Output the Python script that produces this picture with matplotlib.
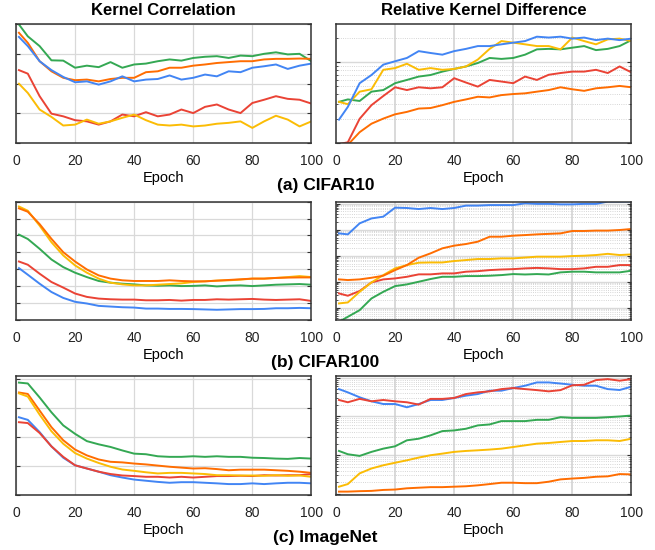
import matplotlib.pyplot as plt
from matplotlib.ticker import LogLocator, NullFormatter
import numpy as np

plt.rcParams['font.family'] = ['Liberation Sans', 'DejaVu Sans']

# x positions (epochs) shared by all series
epochs = [1] + list(range(4, 101, 4))
epoch_ticks = [0, 20, 40, 60, 80, 100]

colors = {'blue': '#4285F4', 'red': '#EA4335', 'yellow': '#FBBC05',
          'green': '#34A853', 'orange': '#FF6D01'}

# ---- (a) CIFAR10 ----
c10_corr_green = [4.0, 3.6, 3.27, 2.79, 2.78, 2.54, 2.61, 2.56, 2.73, 2.54, 2.65, 2.68, 2.76,
                  2.82, 2.78, 2.87, 2.91, 2.93, 2.87, 2.95, 2.93, 3.01, 3.06, 2.99, 3.01, 2.76]
c10_corr_orange = [3.72, 3.38, 2.76, 2.42, 2.2, 2.12, 2.14, 2.08, 2.16, 2.2, 2.2, 2.39, 2.42,
                   2.54, 2.54, 2.61, 2.65, 2.7, 2.73, 2.76, 2.76, 2.82, 2.84, 2.84, 2.85, 2.84]
c10_corr_blue = [3.58, 3.27, 2.76, 2.46, 2.23, 2.05, 2.08, 1.97, 2.08, 2.25, 2.08, 2.14, 2.16,
                 2.28, 2.14, 2.2, 2.31, 2.25, 2.42, 2.39, 2.54, 2.59, 2.65, 2.5, 2.61, 2.68]
c10_corr_red = [2.46, 2.34, 1.58, 0.99, 0.9, 0.77, 0.73, 0.62, 0.73, 0.96, 0.9, 1.04, 0.9,
                0.96, 1.13, 1.01, 1.22, 1.3, 1.13, 1.01, 1.35, 1.46, 1.58, 1.49, 1.46, 1.33]
c10_corr_yellow = [2.0, 1.69, 1.13, 0.88, 0.59, 0.62, 0.79, 0.65, 0.73, 0.85, 0.96, 0.77, 0.62,
                   0.59, 0.62, 0.56, 0.59, 0.65, 0.68, 0.73, 0.51, 0.73, 0.92, 0.79, 0.56, 0.73]

c10_diff_blue = [1.94, 2.79, 5.47, 6.9, 9.26, 10.2, 11.2, 13.6, 12.9, 12.3, 13.6, 14.5, 15.7,
                 15.7, 16.5, 17.3, 18.1, 20.5, 20.0, 20.5, 19.4, 20.0, 18.6, 19.4, 18.6, 19.4]
c10_diff_yellow = [3.22, 3.01, 4.3, 4.6, 8.0, 8.4, 9.5, 8.0, 8.4, 8.0, 8.2, 8.8, 10.7,
                   14.5, 18.1, 17.3, 16.5, 15.7, 15.7, 14.3, 20.0, 18.1, 16.5, 19.0, 19.4, 18.1]
c10_diff_green = [3.22, 3.45, 3.3, 4.3, 4.5, 5.47, 6.0, 6.6, 6.9, 7.6, 8.2, 8.8, 9.7,
                  11.2, 10.9, 11.2, 12.3, 14.3, 14.5, 14.3, 15.0, 15.7, 14.0, 14.5, 15.7, 18.6]
c10_diff_red = [0.97, 1.02, 1.99, 2.93, 3.8, 4.87, 4.5, 4.87, 4.73, 4.87, 6.3, 5.57, 4.96,
                6.0, 5.73, 5.47, 6.6, 6.0, 6.95, 7.3, 7.6, 7.6, 8.0, 7.3, 8.8, 7.43]
c10_diff_orange = [0.93, 0.95, 1.36, 1.73, 2.0, 2.26, 2.42, 2.66, 2.7, 2.93, 3.22, 3.45, 3.72,
                   3.65, 3.9, 4.02, 4.1, 4.3, 4.5, 4.87, 4.6, 4.4, 4.73, 4.87, 5.06, 4.87]

# ---- (b) CIFAR100 ----
c100_corr_yellow = [6.71, 6.46, 5.58, 4.6, 3.82, 3.23, 2.8, 2.45, 2.21, 2.11, 2.05, 2.05, 2.09,
                    2.13, 2.17, 2.25, 2.29, 2.33, 2.35, 2.39, 2.45, 2.45, 2.49, 2.54, 2.6, 2.54]
c100_corr_orange = [6.6, 6.4, 5.67, 4.8, 4.01, 3.46, 2.99, 2.64, 2.45, 2.35, 2.31, 2.31, 2.31,
                    2.35, 2.31, 2.29, 2.29, 2.33, 2.37, 2.41, 2.45, 2.45, 2.49, 2.51, 2.52, 2.52]
c100_corr_green = [5.05, 4.79, 4.21, 3.58, 3.13, 2.8, 2.54, 2.31, 2.21, 2.15, 2.11, 2.05, 2.03,
                   2.05, 2.01, 2.02, 2.05, 1.99, 2.03, 2.05, 2.01, 2.05, 2.09, 2.11, 2.13, 2.09]
c100_corr_red = [3.46, 3.27, 2.74, 2.25, 1.92, 1.57, 1.37, 1.27, 1.23, 1.21, 1.21, 1.17, 1.17,
                 1.19, 1.15, 1.19, 1.19, 1.23, 1.21, 1.23, 1.25, 1.21, 1.19, 1.21, 1.23, 1.13]
c100_corr_blue = [3.07, 2.68, 2.15, 1.66, 1.31, 1.08, 0.98, 0.84, 0.8, 0.76, 0.74, 0.68, 0.68,
                  0.66, 0.66, 0.65, 0.63, 0.61, 0.63, 0.65, 0.65, 0.66, 0.7, 0.7, 0.72, 0.7]

c100_diff_blue = [720, 660, 1750, 2700, 3160, 7000, 6800, 6200, 6800, 6200, 6800, 8400, 8400,
                  8800, 8800, 8800, 10300, 9800, 9800, 9400, 9400, 9800, 9800, 12000, 12000, 12000]
c100_diff_orange = [12.3, 11.6, 12.3, 14.2, 17.0, 28.0, 43.7, 83.6, 123, 192, 243, 281, 346,
                    536, 536, 588, 620, 660, 690, 720, 890, 890, 920, 920, 970, 1060]
c100_diff_yellow = [1.47, 1.6, 4.1, 9.4, 18.0, 32.6, 43.7, 53.8, 55.0, 55.0, 62.4, 68.0, 74.6,
                    74.6, 79.0, 79.0, 85.0, 91.6, 91.6, 91.6, 97.0, 100, 106, 118, 106, 112]
c100_diff_red = [3.56, 2.9, 4.4, 9.4, 12.3, 13.4, 15.5, 19.2, 19.2, 20.9, 20.9, 24.3, 25.5,
                 28.0, 29.5, 30.5, 32.6, 34.0, 32.6, 30.5, 30.5, 32.6, 37.5, 37.5, 43.7, 43.7]
c100_diff_green = [0.29, 0.45, 0.81, 2.28, 4.1, 6.8, 7.9, 10.0, 12.7, 15.5, 15.5, 16.5, 16.5,
                   17.0, 18.0, 19.7, 19.0, 19.7, 19.0, 22.9, 24.3, 24.3, 22.9, 22.9, 22.9, 26.5]

# ---- (c) ImageNet ----
img_corr_green = [3.86, 3.83, 3.35, 2.84, 2.39, 2.1, 1.85, 1.74, 1.65, 1.53, 1.42, 1.4, 1.33,
                  1.31, 1.31, 1.33, 1.31, 1.33, 1.31, 1.31, 1.28, 1.27, 1.25, 1.24, 1.27, 1.25]
img_corr_orange = [3.52, 3.47, 2.9, 2.33, 1.88, 1.56, 1.36, 1.22, 1.14, 1.12, 1.08, 1.05, 1.01,
                   0.97, 0.94, 0.91, 0.92, 0.89, 0.85, 0.87, 0.87, 0.87, 0.85, 0.83, 0.8, 0.76]
img_corr_yellow = [3.49, 3.38, 2.76, 2.19, 1.76, 1.44, 1.25, 1.1, 0.97, 0.875, 0.83, 0.78, 0.74,
                   0.76, 0.76, 0.74, 0.72, 0.68, 0.68, 0.67, 0.67, 0.66, 0.68, 0.66, 0.67, 0.625]
img_corr_blue = [2.67, 2.58, 2.16, 1.67, 1.28, 1.02, 0.91, 0.8, 0.68, 0.6, 0.53, 0.49, 0.45,
                 0.42, 0.44, 0.44, 0.42, 0.4, 0.375, 0.375, 0.4, 0.375, 0.4, 0.42, 0.42, 0.4]
img_corr_red = [2.5, 2.47, 2.13, 1.67, 1.31, 1.02, 0.91, 0.8, 0.72, 0.67, 0.65, 0.625, 0.625,
                0.6, 0.625, 0.6, 0.625, 0.65, 0.65, 0.66, 0.65, 0.68, 0.67, 0.68, 0.68, 0.72]

img_diff_red = [26.7, 23.3, 28.5, 24.7, 26.7, 24.7, 23.3, 20.3, 28.5, 28.5, 30.1, 38.0, 42.0,
                44.6, 51.0, 54.3, 51.0, 48.0, 44.6, 48.0, 64.0, 66.0, 87.0, 92.4, 84.0, 92.4]
img_diff_blue = [51.0, 42.0, 31.3, 24.7, 21.0, 21.0, 17.3, 21.0, 26.7, 26.7, 30.1, 34.5, 38.0,
                 46.4, 46.4, 54.3, 62.4, 75.8, 75.8, 71.0, 66.0, 62.4, 62.4, 51.0, 48.3, 58.8]
img_diff_green = [1.29, 1.06, 0.96, 1.22, 1.48, 1.7, 2.43, 2.67, 3.26, 4.2, 4.37, 4.83, 5.89,
                  6.24, 7.6, 7.6, 7.6, 8.2, 8.2, 9.6, 9.2, 9.2, 9.2, 9.6, 10.0, 10.6]
img_diff_yellow = [0.154, 0.18, 0.34, 0.455, 0.55, 0.64, 0.74, 0.87, 1.0, 1.1, 1.22, 1.29, 1.34,
                   1.4, 1.48, 1.63, 1.8, 1.99, 2.07, 2.2, 2.33, 2.33, 2.43, 2.43, 2.33, 2.67]
img_diff_orange = [0.115, 0.115, 0.118, 0.12, 0.127, 0.13, 0.14, 0.145, 0.15, 0.15, 0.154, 0.158,
                   0.167, 0.18, 0.195, 0.195, 0.19, 0.19, 0.207, 0.238, 0.25, 0.26, 0.278, 0.285,
                   0.326, 0.32]

rows = [
    {'label': '(a) CIFAR10',
     'corr': [('green', c10_corr_green), ('orange', c10_corr_orange), ('blue', c10_corr_blue),
              ('red', c10_corr_red), ('yellow', c10_corr_yellow)],
     'corr_lim': (0, 4),
     'diff': [('orange', c10_diff_orange), ('red', c10_diff_red), ('green', c10_diff_green),
              ('yellow', c10_diff_yellow), ('blue', c10_diff_blue)],
     'diff_lim': (1.0, 29)},
    {'label': '(b) CIFAR100',
     'corr': [('blue', c100_corr_blue), ('red', c100_corr_red), ('green', c100_corr_green),
              ('yellow', c100_corr_yellow), ('orange', c100_corr_orange)],
     'corr_lim': (0, 7),
     'diff': [('green', c100_diff_green), ('red', c100_diff_red), ('yellow', c100_diff_yellow),
              ('orange', c100_diff_orange), ('blue', c100_diff_blue)],
     'diff_lim': (0.336, 12000)},
    {'label': '(c) ImageNet',
     'corr': [('green', img_corr_green), ('blue', img_corr_blue), ('red', img_corr_red),
              ('orange', img_corr_orange), ('yellow', img_corr_yellow)],
     'corr_lim': (0, 4.07),
     'diff': [('orange', img_diff_orange), ('yellow', img_diff_yellow), ('green', img_diff_green),
              ('blue', img_diff_blue), ('red', img_diff_red)],
     'diff_lim': (0.094, 108)},
]

fig = plt.figure(figsize=(6.55, 5.5), dpi=100)

row_bottoms = [0.74, 0.418, 0.10]
row_h = 0.2155
left_x, right_x, ax_w = 0.0244, 0.513, 0.451


def style_axes(ax):
    for s in ax.spines.values():
        s.set_color('#333333')
        s.set_linewidth(1.1)
    ax.set_xlim(0, 100)
    ax.set_xticks(epoch_ticks)
    ax.tick_params(axis='both', which='both', direction='in', color='#333333',
                   labelsize=10, right=True, top=False, labelleft=False)
    ax.tick_params(axis='y', which='major', length=3)
    ax.tick_params(axis='y', which='minor', length=1.5)
    ax.tick_params(axis='x', length=0, colors='#222222', pad=8)
    ax.set_xlabel('Epoch', fontsize=10.5, labelpad=2)


for i, row in enumerate(rows):
    b = row_bottoms[i]
    axl = fig.add_axes([left_x, b, ax_w, row_h])
    axr = fig.add_axes([right_x, b, ax_w, row_h])

    for name, vals in row['corr']:
        axl.plot(epochs, vals, color=colors[name], lw=1.4)
    axl.set_ylim(*row['corr_lim'])
    axl.set_yticks(np.arange(0, row['corr_lim'][1] + 1e-9, 1))
    style_axes(axl)
    axl.grid(True, color='#d9d9d9', lw=0.9)
    axl.set_axisbelow(True)

    axr.set_yscale('log')
    for t in epoch_ticks[1:-1]:
        axr.axvline(t, color='#cfcfcf', lw=1.1, zorder=1.5)
    for name, vals in row['diff']:
        axr.plot(epochs, vals, color=colors[name], lw=1.4, zorder=2)
    axr.set_ylim(*row['diff_lim'])
    axr.yaxis.set_major_locator(LogLocator(base=10, numticks=20))
    axr.yaxis.set_minor_locator(LogLocator(base=10, subs=np.arange(2, 10), numticks=100))
    axr.yaxis.set_minor_formatter(NullFormatter())
    style_axes(axr)
    axr.yaxis.grid(True, which='major', color='#d9d9d9', lw=1.0)
    axr.yaxis.grid(True, which='minor', color='#c8c8c8', lw=0.6, ls=':')
    axr.set_axisbelow(True)

    fig.text(0.497, b - 0.077, row['label'], ha='center', va='center',
             fontsize=12.5, fontweight='bold')

fig.text(left_x + ax_w / 2, 0.981, 'Kernel Correlation', ha='center', va='center',
         fontsize=12, fontweight='bold')
fig.text(right_x + ax_w / 2, 0.981, 'Relative Kernel Difference', ha='center', va='center',
         fontsize=12, fontweight='bold')

fig.savefig('out.png', dpi=100)
